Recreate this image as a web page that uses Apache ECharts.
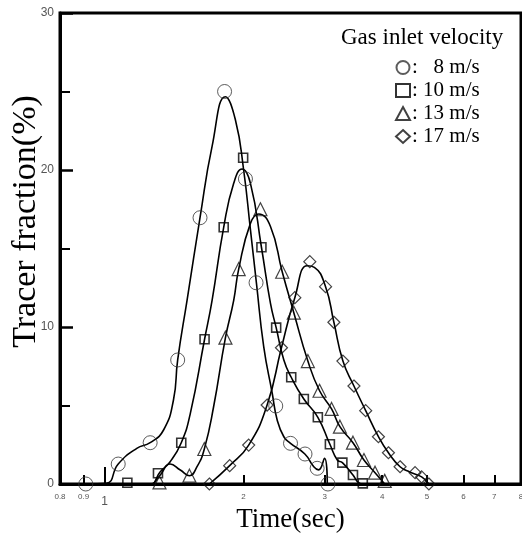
<!DOCTYPE html>
<html>
<head>
<meta charset="utf-8">
<script src="https://cdn.jsdelivr.net/npm/echarts@6/dist/echarts.min.js"></script>
<style>html,body{margin:0;padding:0;background:#fff}#c{width:522px;height:540px}</style>
</head>
<body>
<div id="c"></div>
<script>
// ---- data ----
var names = ['8 m/s', '10 m/s', '13 m/s', '17 m/s'];
var symbols = ['circle', 'rect', 'triangle', 'diamond'];

// measured points (markers)
var t8  = [0.91, 1.07, 1.255, 1.44, 1.61, 1.82, 2.02, 2.13, 2.35, 2.53, 2.72, 2.89, 3.05];
var v8  = [0, 1.27, 2.63, 7.9, 16.96, 25.0, 19.43, 12.82, 4.97, 2.59, 1.91, 1.0, 0];
var t10 = [1.12, 1.305, 1.466, 1.647, 1.812, 1.997, 2.188, 2.355, 2.539, 2.704, 2.9, 3.08, 3.278, 3.456, 3.63];
var v10 = [0.08, 0.68, 2.63, 9.22, 16.35, 20.78, 15.08, 9.96, 6.8, 5.41, 4.25, 2.53, 1.36, 0.57, 0.04];
var t13 = [1.315, 1.527, 1.645, 1.828, 1.953, 2.177, 2.427, 2.572, 2.759, 2.925, 3.106, 3.238, 3.456, 3.651, 3.859, 4.05];
var v13 = [0.1, 0.53, 2.23, 9.32, 13.69, 17.5, 13.52, 10.91, 7.83, 5.94, 4.78, 3.65, 2.63, 1.53, 0.72, 0.2];
var t17 = [1.687, 1.867, 2.053, 2.251, 2.418, 2.585, 2.786, 3.014, 3.142, 3.287, 3.473, 3.683, 3.925, 4.126, 4.373, 4.713, 4.87, 5.05];
var v17 = [0, 1.17, 2.48, 5.03, 8.68, 11.87, 14.16, 12.57, 10.3, 7.83, 6.24, 4.67, 3.01, 1.99, 1.1, 0.72, 0.45, 0];

// fitted curves
var c8 = [[0.91,0],[1.009,0.05],[1.07,1.27],[1.174,2.27],[1.255,2.63],[1.342,3.44],[1.41,5.35],[1.44,7.9],[1.509,11.7],[1.61,16.96],[1.71,21.5],[1.828,24.67],[1.921,23.2],[2.002,20],[2.071,16.2],[2.134,12.8],[2.213,8.75],[2.309,5.78],[2.367,4.08],[2.447,3.01],[2.53,2.59],[2.718,1.91],[2.842,1.1],[2.91,0.9],[2.999,1.64],[3.04,0]];
var c10 = [[1.12,0],[1.255,0],[1.32,0.78],[1.387,1.42],[1.466,2.63],[1.534,4.5],[1.647,9.22],[1.71,11.7],[1.812,16.35],[1.905,19.15],[1.986,20.06],[2.071,19.15],[2.188,15.08],[2.289,11.5],[2.355,9.96],[2.447,7.9],[2.539,6.8],[2.704,5.41],[2.9,4.25],[3.08,2.53],[3.196,1.53],[3.278,1.36],[3.456,0.57],[3.533,0.15],[3.6,0]];
var c13 = [[1.276,0],[1.32,0.57],[1.387,1.27],[1.459,0.89],[1.527,0.53],[1.586,1.1],[1.645,2.23],[1.723,4.92],[1.828,9.32],[1.905,11.7],[1.953,13.69],[2.071,16.6],[2.159,17.2],[2.289,16.4],[2.427,13.52],[2.572,10.91],[2.759,7.83],[2.925,5.94],[3.106,4.78],[3.238,3.65],[3.456,2.63],[3.651,1.53],[3.859,0.72],[4.05,0]];
var c17 = [[1.687,0],[1.867,1.17],[2.053,2.48],[2.251,5.03],[2.418,8.68],[2.585,11.87],[2.75,13.9],[2.85,13.8],[3.014,12.57],[3.142,10.3],[3.287,7.83],[3.473,6.24],[3.683,4.67],[3.925,3.01],[4.126,1.99],[4.373,1.1],[4.6,0.75],[4.87,0.45],[5.05,0]];

var xTickLabels = [0.8, 0.9, 1, 2, 3, 4, 5, 6, 7, 8];
var xTicks = [0.9, 2, 3, 4, 5, 6, 7];
var xMajorTick = [1];

// ---- chart ----
function zip(t, v) { return t.map(function (x, i) { return [x, v[i]]; }); }
var markT = [t8, t10, t13, t17];
var markV = [v8, v10, v13, v17];
var curves = [c8, c10, c13, c17];
var symSize = [14, 9, 13, 12];
var symColor = ['#333', '#000', '#111', '#111'];
var symWidth = [1, 1.6, 1.2, 1.2];

var series = [];
curves.forEach(function (c, i) {
  series.push({
    type: 'line', name: 'curve' + i, data: c, smooth: true, showSymbol: false, silent: true,
    lineStyle: { color: '#000', width: 1.6 }, z: 2
  });
});
names.forEach(function (n, i) {
  series.push({
    type: 'scatter', name: n, data: zip(markT[i], markV[i]), symbol: symbols[i], symbolSize: symSize[i],
    itemStyle: { color: 'rgba(255,255,255,0)', borderColor: symColor[i], borderWidth: symWidth[i] }, z: 3
  });
});
series.push({ type: 'line', xAxisIndex: 1, data: [], silent: true });

var sans = 'Liberation Sans, Arial, sans-serif';
var serif = 'Liberation Serif, Times New Roman, serif';

var chart = echarts.init(document.getElementById('c'), null, { renderer: 'canvas' });
chart.setOption({
  animation: false,
  backgroundColor: '#fff',
  title: {
    text: 'Gas inlet velocity', left: 341, top: 26, padding: 0,
    textStyle: { fontFamily: serif, fontSize: 23, fontWeight: 'normal', color: '#000' }
  },
  legend: {
    data: names, orient: 'vertical', left: 395, top: 57, padding: 0,
    itemWidth: 14, itemHeight: 13, itemGap: 2,
    formatter: function (n) { return n === '8 m/s' ? ':   ' + n : ': ' + n; },
    textStyle: { fontFamily: serif, fontSize: 21, color: '#000', padding: [0, 0, 0, -3] }
  },
  grid: { left: 60, right: 1, top: 13, bottom: 56, show: true, borderColor: '#000', borderWidth: 3,
          outerBoundsMode: 'none', containLabel: false },
  xAxis: [{
    type: 'log', logBase: 10, min: 0.8, max: 8,
    name: 'Time(sec)', nameLocation: 'middle', nameGap: 22, nameMoveOverlap: false,
    nameTextStyle: { fontFamily: serif, fontSize: 27, color: '#000' },
    axisLine: { lineStyle: { color: '#000', width: 3 } },
    axisTick: { inside: true, length: 9, customValues: xTicks, lineStyle: { color: '#000', width: 2 } },
    axisLabel: {
      customValues: xTickLabels, margin: 9, fontFamily: sans, fontSize: 8, color: '#555',
      formatter: function (v) { return Math.abs(v - 1) < 1e-9 ? '{b|1}' : String(+v.toFixed(1)); },
      rich: { b: { fontSize: 12, fontFamily: sans, color: '#555', padding: [3, 0, 0, 0] } }
    },
    splitLine: { show: false }, minorTick: { show: false }
  }, {
    type: 'log', logBase: 10, min: 0.8, max: 8, position: 'bottom',
    axisLine: { show: false },
    axisTick: { inside: true, length: 17, customValues: xMajorTick, lineStyle: { color: '#000', width: 2 } },
    axisLabel: { show: false }, splitLine: { show: false }
  }],
  yAxis: {
    type: 'value', min: 0, max: 30, interval: 10,
    name: 'Tracer fraction(%)', nameLocation: 'middle', nameGap: 17, nameMoveOverlap: false,
    nameTextStyle: { fontFamily: serif, fontSize: 34, color: '#000', padding: [0, 0, 0, 54] },
    axisLine: { show: true, lineStyle: { color: '#000', width: 3 } },
    axisTick: { inside: true, length: 13, lineStyle: { color: '#000', width: 2.5 } },
    minorTick: { show: true, splitNumber: 2, length: 10, lineStyle: { color: '#000', width: 2 } },
    axisLabel: { margin: 6, fontFamily: sans, fontSize: 12, color: '#555' },
    splitLine: { show: false }
  },
  series: series
});
</script>
</body>
</html>
